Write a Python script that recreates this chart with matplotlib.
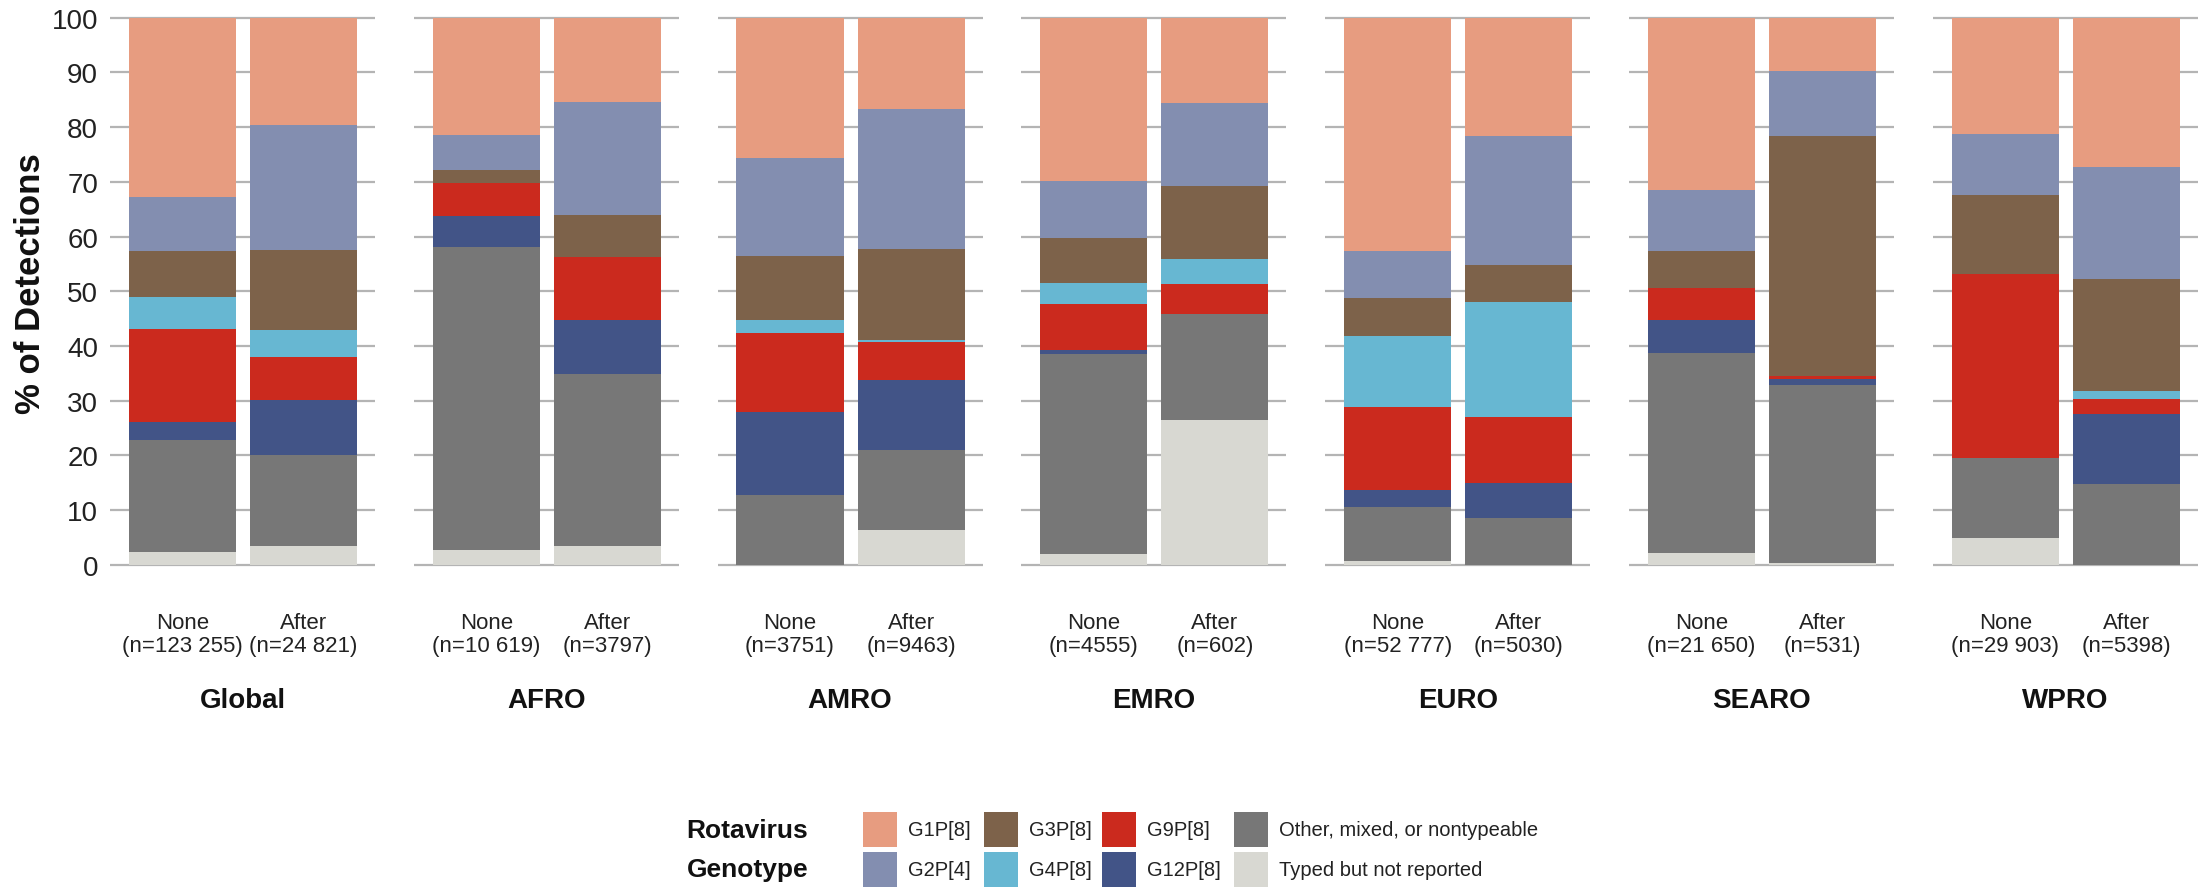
import numpy as np
import matplotlib
matplotlib.use("Agg")
import matplotlib.pyplot as plt
from matplotlib.patches import Rectangle

plt.rcParams["font.family"] = ["Liberation Sans", "DejaVu Sans"]

# WHO regions, each with a "None" and an "After" vaccine-introduction bar
regions = ["Global", "AFRO", "AMRO", "EMRO", "EURO", "SEARO", "WPRO"]
periods = ["None", "After"]
sample_sizes = [
    ["123 255", "24 821"],
    ["10 619", "3797"],
    ["3751", "9463"],
    ["4555", "602"],
    ["52 777", "5030"],
    ["21 650", "531"],
    ["29 903", "5398"],
]

# Percent of detections by genotype; order per region: None, After
typed_not_reported = [2.3, 3.5, 2.7, 3.4, 0.0, 6.3, 2.0, 26.5, 0.7, 0.0, 2.1, 0.4, 4.9, 0.0]
other_mixed = [20.5, 16.5, 55.3, 31.5, 12.8, 14.6, 36.5, 19.4, 9.8, 8.5, 36.6, 32.5, 14.6, 14.8]
g12p8 = [3.3, 10.1, 5.7, 9.9, 15.2, 12.8, 0.7, 0.0, 3.2, 6.4, 6.0, 1.1, 0.0, 12.7]
g9p8 = [17.0, 7.9, 6.0, 11.4, 14.4, 7.1, 8.4, 5.4, 15.2, 12.1, 5.9, 0.5, 33.7, 2.8]
g4p8 = [5.8, 4.9, 0.0, 0.0, 2.3, 0.2, 3.9, 4.6, 13.0, 21.0, 0.0, 0.0, 0.0, 1.4]
g3p8 = [8.4, 14.7, 2.4, 7.7, 11.7, 16.8, 8.2, 13.4, 6.8, 6.8, 6.7, 43.8, 14.4, 20.5]
g2p4 = [9.9, 22.7, 6.5, 20.7, 18.0, 25.6, 10.5, 15.1, 8.6, 23.5, 11.2, 12.0, 11.2, 20.5]
g1p8 = [32.8, 19.7, 21.4, 15.4, 25.6, 16.6, 29.8, 15.6, 42.7, 21.7, 31.5, 9.7, 21.2, 27.3]

# Stack order from bottom to top
stack = [
    ("Typed but not reported", typed_not_reported, "#d8d8d2"),
    ("Other, mixed, or nontypeable", other_mixed, "#777777"),
    ("G12P[8]", g12p8, "#425487"),
    ("G9P[8]", g9p8, "#cb2a1e"),
    ("G4P[8]", g4p8, "#67b7d2"),
    ("G3P[8]", g3p8, "#7d624a"),
    ("G2P[4]", g2p4, "#838eb0"),
    ("G1P[8]", g1p8, "#e79c80"),
]

W, H = 2200, 895
fig = plt.figure(figsize=(W / 100, H / 100), dpi=100)

panel_left0 = 110
panel_step = 303.8
panel_w = 265
ax_bottom = 1 - 565.7 / H
ax_top = 1 - 18.7 / H
xlo, xhi = -0.598, 1.59
grid_color = "#b4b4b4"

for i, region in enumerate(regions):
    ax = fig.add_axes([(panel_left0 + i * panel_step) / W, ax_bottom,
                       panel_w / W, ax_top - ax_bottom])
    cols = [2 * i, 2 * i + 1]
    x = np.arange(len(periods))
    bottom = np.zeros(len(periods))
    for (name, vals, color) in stack:
        v = np.array([vals[c] for c in cols])
        ax.bar(x, v, width=0.884, bottom=bottom, color=color,
               edgecolor="none", linewidth=0, zorder=2)
        bottom += v
    ax.hlines(np.arange(0, 101, 10), xlo, xhi, color=grid_color,
              linewidth=1.6, zorder=0, clip_on=False)
    ax.set_xlim(xlo, xhi)
    ax.set_ylim(0, 100)
    for sp in ax.spines.values():
        sp.set_visible(False)
    ax.set_xticks(x)
    ax.set_xticklabels([f"{p}\n(n={n})" for p, n in zip(periods, sample_sizes[i])],
                       fontsize=16, linespacing=1.1, color="#222222")
    ax.tick_params(axis="x", length=0, pad=34)
    ax.set_yticks(np.arange(0, 101, 10))
    if i == 0:
        ax.tick_params(axis="y", length=0, pad=8.5, labelsize=20,
                       labelcolor="#222222")
    else:
        ax.tick_params(axis="y", length=0, labelleft=False)
    cx = (panel_left0 + i * panel_step + panel_w / 2) / W
    fig.text(cx, 1 - 708 / H, region, ha="center", va="baseline",
             fontsize=20, fontweight="bold", color="#111111")

fig.text(31 / W, 1 - 284 / H, "% of Detections", rotation=90, ha="center",
         va="center", fontsize=25, fontweight="bold", color="#111111")

# Legend: two rows of keys, genotype title on the left
row_tops = [813, 853]
sw_w, sw_h = 34, 35
row_centers = [t + sw_h / 2 for t in row_tops]
fig.text(808 / W, 1 - row_centers[0] / H, "Rotavirus", ha="right", va="center",
         fontsize=19, fontweight="bold", color="#111111")
fig.text(808 / W, 1 - row_centers[1] / H, "Genotype", ha="right", va="center",
         fontsize=19, fontweight="bold", color="#111111")
legend_cols = [
    (863, ["G1P[8]", "G2P[4]"]),
    (984, ["G3P[8]", "G4P[8]"]),
    (1102, ["G9P[8]", "G12P[8]"]),
    (1234, ["Other, mixed, or nontypeable", "Typed but not reported"]),
]
colors = {name: color for name, _, color in stack}
for sx, names in legend_cols:
    for r, name in enumerate(names):
        top = row_tops[r]
        fig.add_artist(Rectangle((sx / W, 1 - (top + sw_h) / H), sw_w / W, sw_h / H,
                                 transform=fig.transFigure, facecolor=colors[name],
                                 edgecolor="none"))
        fig.text((sx + 45) / W, 1 - row_centers[r] / H, name, ha="left",
                 va="center", fontsize=14.5, color="#222222")

fig.savefig("out.png", dpi=100, facecolor="white")
